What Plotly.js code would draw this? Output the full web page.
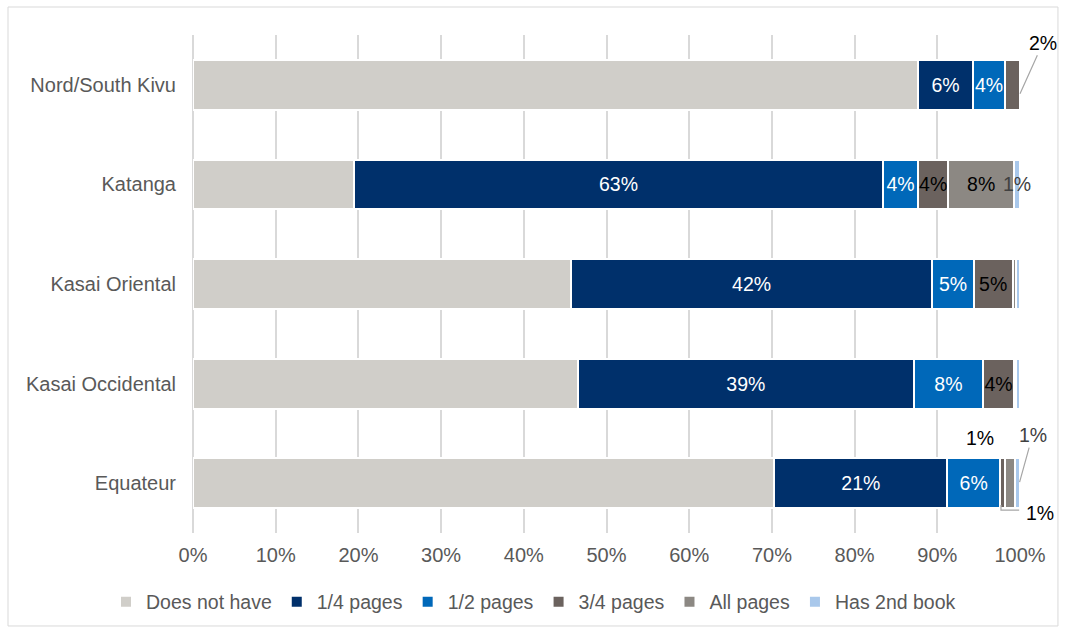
<!DOCTYPE html>
<html>
<head>
<meta charset="utf-8">
<script src="https://cdn.plot.ly/plotly-3.0.1.min.js"></script>
<style>
html,body{margin:0;padding:0;background:#fff;}
#chart{width:1065px;height:632px;}
</style>
</head>
<body>
<div id="chart"></div>
<script>
// ---- data (percent of respondents) ----
const categories = ['Nord/South Kivu', 'Katanga', 'Kasai Oriental', 'Kasai Occidental', 'Equateur'];
const seriesNames = ['Does not have', '1/4 pages', '1/2 pages', '3/4 pages', 'All pages', 'Has 2nd book'];
const doesNotHave = [87.7, 19.5, 45.7, 46.5, 70.3];
const quarterPages = [6.6, 63.9, 43.7, 40.7, 20.9];
const halfPages = [3.9, 4.3, 5.0, 8.3, 6.4];
const threeQuarterPages = [1.8, 3.6, 4.7, 3.8, 0.6];
const allPages = [0.0, 8.0, 0.4, 0.2, 1.2];
const has2ndBook = [0.0, 0.7, 0.5, 0.5, 0.6];

// data labels shown inside the bars ('' = none)
const quarterLabels = ['6%', '63%', '42%', '39%', '21%'];
const halfLabels = ['4%', '4%', '5%', '8%', '6%'];
const threeQuarterLabels = ['', '4%', '5%', '4%', ''];
const allPagesLabels = ['', '8%', '', '', ''];
const has2ndLabels = ['', '1%', '', '', ''];
// labels placed outside the bars
const outsideNord3q = '2%';
const outsideEq3q = '1%';
const outsideEqAll = '1%';
const outsideEqHas = '1%';

const colors = ['#d0cec9', '#00306b', '#0068b9', '#6b625e', '#8c8883', '#a9c8eb'];
const labelColors = ['#000', '#ffffff', '#ffffff', '#000000', '#000000', '#404040'];

const seriesValues = [doesNotHave, quarterPages, halfPages, threeQuarterPages, allPages, has2ndBook];
const seriesLabels = [categories.map(() => ''), quarterLabels, halfLabels, threeQuarterLabels, allPagesLabels, has2ndLabels];

const FONT = 'Liberation Sans, Arial, sans-serif';

const traces = seriesValues.map((vals, i) => ({
  type: 'bar',
  orientation: 'h',
  name: seriesNames[i],
  y: categories,
  x: vals,
  text: seriesLabels[i],
  textposition: 'inside',
  insidetextanchor: 'middle',
  textangle: 0,
  constraintext: 'none',
  cliponaxis: false,
  insidetextfont: {family: FONT, size: 19.5, color: labelColors[i]},
  marker: {color: colors[i], line: {color: '#ffffff', width: 2}},
  hoverinfo: 'x+name'
}));

// cumulative helpers
function cumEnd(seriesIdx, catIdx) {
  let s = 0;
  for (let k = 0; k <= seriesIdx; k++) s += seriesValues[k][catIdx];
  return s;
}
function center(seriesIdx, catIdx) {
  return cumEnd(seriesIdx, catIdx) - seriesValues[seriesIdx][catIdx] / 2;
}

const nordIdx = 0, eqIdx = 4;
const lblFont = {family: FONT, size: 19.5, color: '#000'};
const annotations = [
  {x: cumEnd(3, nordIdx), y: categories[nordIdx], xref: 'x', yref: 'y', text: outsideNord3q,
   showarrow: true, arrowhead: 0, arrowwidth: 1.2, arrowcolor: '#a6a6a6', ax: 23, ay: -51, yshift: -9,
   font: lblFont},
  {x: center(3, eqIdx), y: categories[eqIdx], xref: 'x', yref: 'y', text: outsideEq3q,
   showarrow: false, xshift: -23, yshift: 45, font: lblFont},
  {x: cumEnd(5, eqIdx) - 0.05, y: categories[eqIdx], xref: 'x', yref: 'y', text: outsideEqHas,
   showarrow: true, arrowhead: 0, arrowwidth: 1.2, arrowcolor: '#a6a6a6', ax: 13, ay: -47, yshift: 1,
   font: {family: FONT, size: 19.5, color: '#404040'}},
  {x: center(4, eqIdx), y: categories[eqIdx], xref: 'x', yref: 'y', text: outsideEqAll,
   showarrow: false, xshift: 30, yshift: -30, font: lblFont}
];

const eqLeaderX0 = cumEnd(2, eqIdx) + 0.1;
const eqLeaderX1 = cumEnd(5, eqIdx) - 0.1;
const shapes = [
  {type: 'path', xref: 'x', yref: 'y',
   path: `M${eqLeaderX0},${eqIdx + 0.22} L${eqLeaderX0},${eqIdx + 0.27} L${eqLeaderX1},${eqIdx + 0.27}`,
   line: {color: '#a6a6a6', width: 1.2}},
  {type: 'rect', xref: 'paper', yref: 'paper', x0: -0.2237, x1: 1.0459, y0: -0.1867, y1: 1.0562,
   line: {color: '#d9d9d9', width: 1}, fillcolor: 'rgba(0,0,0,0)', layer: 'below'}
];

const layout = {
  width: 1065, height: 632,
  margin: {l: 193, r: 45, t: 35, b: 99, autoexpand: false},
  barmode: 'stack',
  bargap: 0.5,
  paper_bgcolor: '#ffffff', plot_bgcolor: '#ffffff',
  font: {family: FONT, size: 20, color: '#595959'},
  showlegend: true,
  legend: {orientation: 'h', x: -0.1052, xanchor: 'left', y: -0.1386, yanchor: 'middle',
           font: {family: FONT, size: 19.5, color: '#595959'}, itemwidth: 30, traceorder: 'normal',
           itemclick: false},
  xaxis: {range: [0, 100], dtick: 10, tick0: 0, ticksuffix: '%', showgrid: true, gridcolor: '#d9d9d9',
          gridwidth: 1.5, zeroline: true, zerolinecolor: '#d9d9d9', zerolinewidth: 1.5, showline: false,
          ticks: '', ticklabelstandoff: 8, tickfont: {family: FONT, size: 20, color: '#595959'}, fixedrange: true},
  yaxis: {type: 'category', range: [4.5, -0.5], autorange: false, showgrid: false, zeroline: false, showline: false,
          ticks: '', ticklabelstandoff: 16, tickfont: {family: FONT, size: 20, color: '#595959'}, fixedrange: true},
  annotations: annotations,
  shapes: shapes
};

Plotly.newPlot('chart', traces, layout, {displayModeBar: false, staticPlot: false});
</script>
</body>
</html>
